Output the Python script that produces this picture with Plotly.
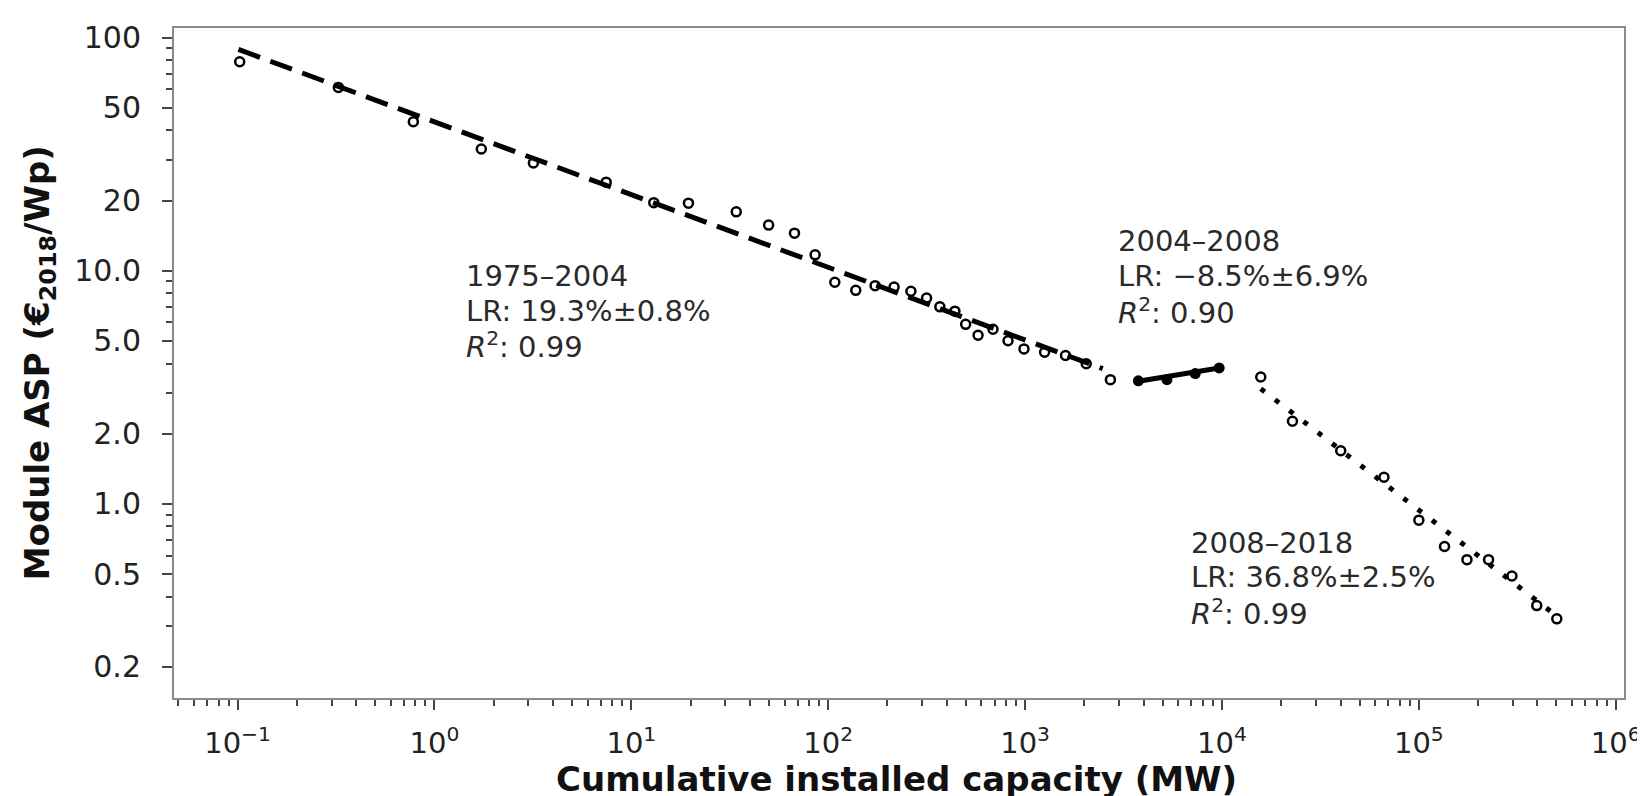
import plotly.graph_objects as go

# ---- data ----
seg1_x = [0.1025, 0.325, 0.781, 1.73, 3.18, 7.45, 13.0, 19.5, 34.1, 49.8, 67.4, 85.8,
          108, 138, 173, 216, 263, 316, 369, 440, 499, 577, 687, 819, 987, 1256, 1604,
          2044, 2712]
seg1_y = [78.8, 61.2, 43.6, 33.3, 29.0, 24.0, 19.6, 19.5, 17.9, 15.7, 14.5, 11.7,
          8.93, 8.24, 8.63, 8.51, 8.17, 7.64, 7.00, 6.71, 5.89, 5.29, 5.61, 5.01, 4.62,
          4.47, 4.33, 3.99, 3.41]
seg2_x = [3760, 5255, 7315, 9680]
seg2_y = [3.37, 3.41, 3.62, 3.83]
seg3_x = [15740, 22800, 40100, 66500, 100000, 135000, 175500, 226000, 297000, 397000, 502000]
seg3_y = [3.50, 2.26, 1.69, 1.30, 0.851, 0.656, 0.576, 0.576, 0.490, 0.366, 0.321]

fit1_x = [0.101, 2480]
fit1_y = [89, 3.80]
fit2_x = [3760, 9680]
fit2_y = [3.36, 3.83]
fit3_x = [15740, 502000]
fit3_y = [3.12, 0.33]

x_tickvals = [0.1, 1, 10, 100, 1000, 10000, 100000, 1000000]
x_ticktext = ["10<sup>\u22121</sup>", "10<sup>0</sup>", "10<sup>1</sup>", "10<sup>2</sup>",
              "10<sup>3</sup>", "10<sup>4</sup>", "10<sup>5</sup>", "10<sup>6</sup>"]
y_tickvals = [0.2, 0.5, 1, 2, 5, 10, 20, 50, 100]
y_ticktext = ["0.2", "0.5", "1.0", "2.0", "5.0", "10.0", "20", "50", "100"]

labels = [
    ("1975\u20132004", "LR: 19.3%\u00b10.8%", "<i>R</i><sup>2</sup>: 0.99"),
    ("2004\u20132008", "LR: \u22128.5%\u00b16.9%", "<i>R</i><sup>2</sup>: 0.90"),
    ("2008\u20132018", "LR: 36.8%\u00b12.5%", "<i>R</i><sup>2</sup>: 0.99"),
]

FONT = "DejaVu Sans"
W, H = 1645, 796
L, R, T, B = 166, 26, 12, 106
PW, PH = W - L - R, H - T - B

def px(xp):
    return (xp - L) / PW

def py(yp):
    return (H - B - yp) / PH

fig = go.Figure()

circ = dict(symbol="circle-open", size=9, color="black", line=dict(width=2.5, color="black"))
fig.add_trace(go.Scatter(x=seg1_x, y=seg1_y, mode="markers", marker=circ, showlegend=False))
fig.add_trace(go.Scatter(x=seg3_x, y=seg3_y, mode="markers", marker=circ, showlegend=False))

fig.add_trace(go.Scatter(x=fit1_x, y=fit1_y, mode="lines",
                         line=dict(color="black", width=5, dash="23px,11px"), showlegend=False))
fig.add_trace(go.Scatter(x=fit2_x, y=fit2_y, mode="lines",
                         line=dict(color="black", width=5), showlegend=False))
fig.add_trace(go.Scatter(x=seg2_x, y=seg2_y, mode="markers",
                         marker=dict(symbol="circle", size=11, color="black"), showlegend=False))
fig.add_trace(go.Scatter(x=fit3_x, y=fit3_y, mode="lines",
                         line=dict(color="black", width=5, dash="5px,13px"), showlegend=False))

minor_vals = [m * 10 ** e for e in range(-2, 7) for m in range(2, 10)]

axis_common = dict(
    type="log", showgrid=False, zeroline=False, showline=True, mirror=True,
    linecolor="#8a8a8a", linewidth=2, ticks="outside", ticklen=10, tickwidth=2,
    tickcolor="#444",
    tickmode="array",
    minor=dict(tickmode="array", tickvals=minor_vals, ticks="outside", ticklen=6,
               tickwidth=1.5, tickcolor="#444", showgrid=False),
)

fig.update_xaxes(range=[-1.323, 6.042], tickvals=x_tickvals, ticktext=x_ticktext,
                 ticklabelstandoff=8, tickfont=dict(family=FONT, size=29, color="#222"),
                 **axis_common)
fig.update_yaxes(range=[-0.833, 2.0415], tickvals=y_tickvals, ticktext=y_ticktext,
                 ticklabelstandoff=15, tickfont=dict(family=FONT, size=30, color="#222"),
                 **axis_common)

annots = []
blocks = [(457, [263, 298, 333]), (1110, [228, 263, 298]), (1183, [533, 568, 603])]
for (xl, ys), lines in zip(blocks, labels):
    for yy, txt in zip(ys, lines):
        annots.append(dict(x=px(xl), y=py(yy), xref="paper", yref="paper", text=txt,
                           showarrow=False, xanchor="left", yanchor="middle",
                           font=dict(family=FONT, size=29, color="#2a2a2a")))

annots.append(dict(x=px(890), y=py(772), xref="paper", yref="paper",
                   text="<b>Cumulative installed capacity (MW)</b>", showarrow=False,
                   xanchor="center", yanchor="middle",
                   font=dict(family=FONT, size=34, color="#111")))
annots.append(dict(x=px(31), y=py(351), xref="paper", yref="paper",
                   text="<b>Module ASP (\u20ac<sub>2018</sub>/Wp)</b>", showarrow=False,
                   xanchor="center", yanchor="middle", textangle=-90,
                   font=dict(family=FONT, size=34, color="#111")))

fig.update_layout(
    width=W, height=H, margin=dict(l=L, r=R, t=T, b=B),
    paper_bgcolor="white", plot_bgcolor="white",
    annotations=annots, showlegend=False,
)

fig.write_html("out.html")
